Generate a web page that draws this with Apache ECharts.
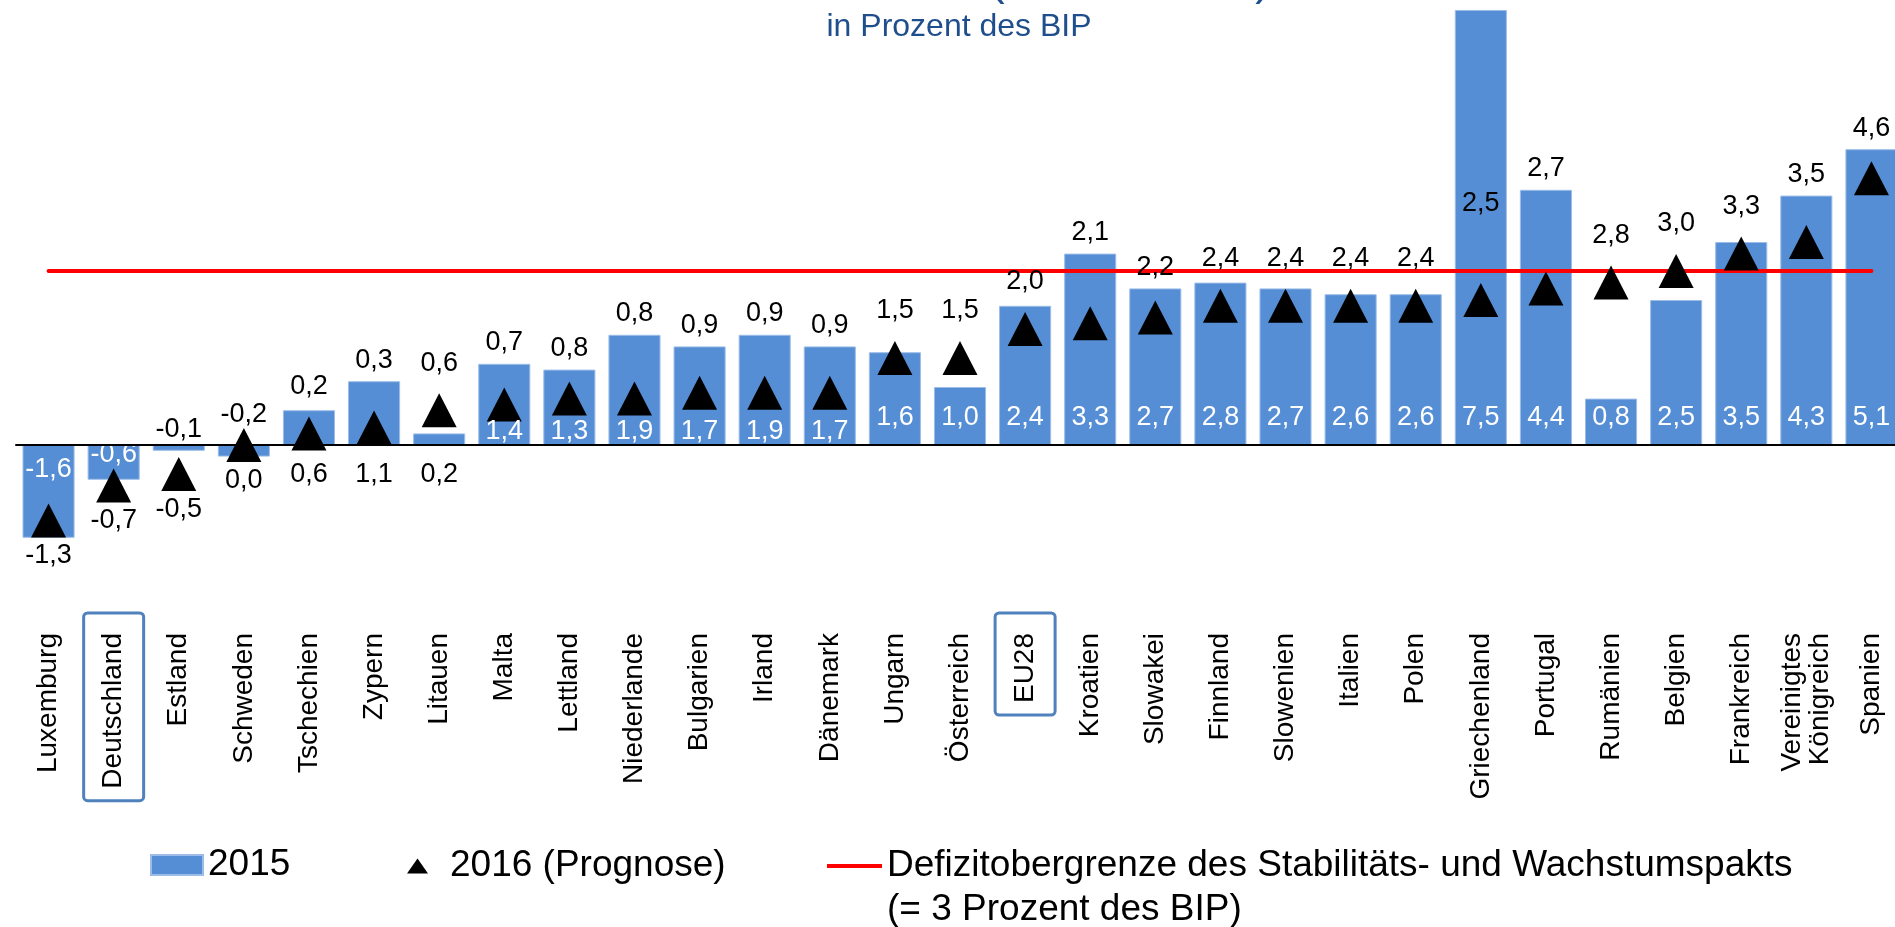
<!DOCTYPE html>
<html>
<head>
<meta charset="utf-8">
<script src="https://cdn.jsdelivr.net/npm/echarts@6/dist/echarts.min.js"></script>
<style>
html, body { margin: 0; padding: 0; background: #ffffff; }
#chart { width: 1895px; height: 927px; }
</style>
</head>
<body>
<div id="chart"></div>
<script>
// ---------------- data ----------------
const CATEGORIES = ['Luxemburg', 'Deutschland', 'Estland', 'Schweden', 'Tschechien', 'Zypern', 'Litauen', 'Malta',
  'Lettland', 'Niederlande', 'Bulgarien', 'Irland', 'Dänemark', 'Ungarn', 'Österreich', 'EU28', 'Kroatien',
  'Slowakei', 'Finnland', 'Slowenien', 'Italien', 'Polen', 'Griechenland', 'Portugal', 'Rumänien', 'Belgien',
  'Frankreich', 'Vereinigtes\nKönigreich', 'Spanien'];
const DEFICIT_2015 = [-1.6, -0.6, -0.1, -0.2, 0.6, 1.1, 0.2, 1.4, 1.3, 1.9, 1.7, 1.9, 1.7, 1.6, 1.0, 2.4, 3.3,
  2.7, 2.8, 2.7, 2.6, 2.6, 7.5, 4.4, 0.8, 2.5, 3.5, 4.3, 5.1];
const DEFICIT_2016 = [-1.3, -0.7, -0.5, 0.0, 0.2, 0.3, 0.6, 0.7, 0.8, 0.8, 0.9, 0.9, 0.9, 1.5, 1.5, 2.0, 2.1,
  2.2, 2.4, 2.4, 2.4, 2.4, 2.5, 2.7, 2.8, 3.0, 3.3, 3.5, 4.6];
const LIMIT = 3;
const HIGHLIGHTED = ['Deutschland', 'EU28'];
const SUBTITLE = 'in Prozent des BIP';
const NAME_2015 = '2015';
const NAME_2016 = '2016 (Prognose)';
const NAME_LIMIT = 'Defizitobergrenze des Stabilitäts- und Wachstumspakts';
const NOTE_LIMIT = '(= 3 Prozent des BIP)';

// ---------------- helpers ----------------
const FONT = '"Liberation Sans", Arial, Helvetica, sans-serif';
const fmt = v => v.toFixed(1).replace('.', ',');

function renderLabels(params, api) {
  const i = api.value(0), bar = api.value(1), tri = api.value(2);
  const p0 = api.coord([i, 0]);
  const x = p0[0], y0 = p0[1];
  const u = y0 - api.coord([i, 1])[1];
  const yv = v => y0 - v * u;
  const txt = (text, y, color) => ({
    type: 'text', x: x, y: y,
    style: { text: text, fill: color, font: '27px ' + FONT, textAlign: 'center', textVerticalAlign: 'middle' }
  });
  const kids = [];
  // 2016 forecast label
  let y16;
  if (tri > 0) {
    const a = bar > 6 ? LIMIT + 0.8 : Math.max(bar, tri + 0.45);
    y16 = yv(a) - 8 - 13;
  } else {
    const a = Math.min(bar, tri - 0.35);
    y16 = yv(a) + 2 + 13;
  }
  kids.push(txt(fmt(tri), y16, '#000000'));
  // 2015 label
  let y15, c15 = '#ffffff';
  if (bar > 0) {
    if (tri < 0.5 || bar < 0.7) { y15 = y0 + 30; c15 = '#000000'; }
    else { y15 = y0 - (tri < 1 ? 13 : 27); }
  } else {
    if (bar <= -0.5) { y15 = y0 + (bar <= -1 ? 25 : 10); }
    else { y15 = yv(Math.max(0, tri + 0.26)) - 15; c15 = '#000000'; }
  }
  kids.push(txt(fmt(bar), y15, c15));
  return { type: 'group', children: kids };
}

const richBase = { fontSize: 28, fontFamily: FONT, color: '#000000', padding: [16, 20, 16, 12] };
const legendText = { fontSize: 37, fontFamily: FONT, color: '#000000', lineHeight: 44 };

const chart = echarts.init(document.getElementById('chart'), null, { renderer: 'canvas' });
chart.setOption({
  animation: false,
  backgroundColor: '#ffffff',
  grid: { left: 16, width: 1888, top: 10, height: 580, containLabel: false, outerBoundsMode: 'none' },
  xAxis: {
    type: 'category',
    data: CATEGORIES,
    z: 10,
    axisLine: { lineStyle: { color: '#000000', width: 2 } },
    axisTick: { show: false },
    axisLabel: {
      interval: 0,
      rotate: 90,
      margin: 23,
      formatter: function (v) {
        const lines = v.split('\n');
        if (lines.length > 1) {
          return lines.map((l, k) => '{' + (k === 0 ? 'first' : 'second') + '|' + l + '}').join('\n');
        }
        return '{' + (HIGHLIGHTED.indexOf(v) >= 0 ? 'box' : 'plain') + '|' + v + '}';
      },
      rich: {
        plain: richBase,
        box: Object.assign({}, richBase, { borderColor: '#4F81BD', borderWidth: 3, borderRadius: 4 }),
        first: Object.assign({}, richBase, { padding: [16, 20, 0, 12] }),
        second: Object.assign({}, richBase, { padding: [0, 20, 16, 12] })
      }
    }
  },
  yAxis: { type: 'value', min: -2.5, max: 7.5, show: false, splitLine: { show: false } },
  legend: [
    { data: [NAME_2015], left: 150, top: 843, padding: 0, itemWidth: 52, itemHeight: 20, icon: 'rect',
      selectedMode: false, textStyle: legendText },
    { data: [NAME_2016], left: 407, top: 844, padding: 0, itemWidth: 21, itemHeight: 15, icon: 'triangle',
      symbolKeepAspect: false, selectedMode: false,
      textStyle: Object.assign({}, legendText, { padding: [0, 0, 0, 17] }) },
    { data: [NAME_LIMIT], left: 827, top: 800, padding: 0, itemWidth: 55, itemHeight: 4, icon: 'rect',
      symbolKeepAspect: false, selectedMode: false, textStyle: legendText,
      formatter: n => '\n' + n + '\n' + NOTE_LIMIT }
  ],
  graphic: [
    { type: 'text', x: 959, y: 27, silent: true,
      style: { text: SUBTITLE, fill: '#1F4E8C', font: '32px ' + FONT, textAlign: 'center', textVerticalAlign: 'middle' } },
    { type: 'text', x: 990, y: -17, silent: true,
      style: { text: '(', fill: '#1F4E8C', font: '44px ' + FONT, textAlign: 'left', textVerticalAlign: 'middle' } },
    { type: 'text', x: 1270, y: -17, silent: true,
      style: { text: ')', fill: '#1F4E8C', font: '44px ' + FONT, textAlign: 'right', textVerticalAlign: 'middle' } }
  ],
  series: [
    { name: NAME_2015, type: 'bar', data: DEFICIT_2015, barWidth: '80%', z: 2,
      itemStyle: { color: '#558ED5', borderColor: '#9DBDE8', borderWidth: 1 } },
    { name: NAME_LIMIT, type: 'line', data: CATEGORIES.map(() => LIMIT), symbol: 'none', z: 3,
      lineStyle: { color: '#FF0000', width: 4, cap: 'round' }, itemStyle: { color: '#FF0000' } },
    { name: NAME_2016, type: 'scatter', data: DEFICIT_2016, symbol: 'triangle', symbolSize: [35, 34], z: 4,
      itemStyle: { color: '#000000', opacity: 1 } },
    { type: 'custom', name: 'labels', silent: true, z: 6,
      data: CATEGORIES.map((c, i) => [i, DEFICIT_2015[i], DEFICIT_2016[i]]),
      encode: { x: 0, y: 1 },
      renderItem: renderLabels }
  ]
});
</script>
</body>
</html>
